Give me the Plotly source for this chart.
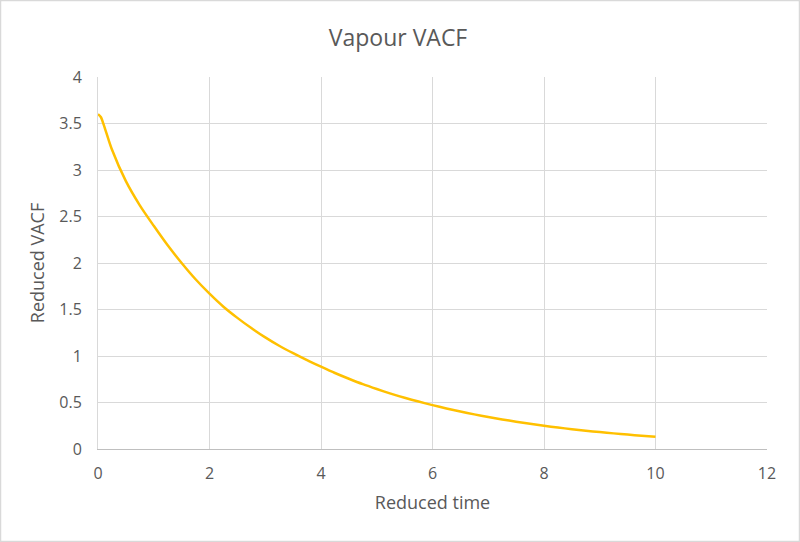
import plotly.graph_objects as go

reduced_time = [0, 0.05, 0.1, 0.15, 0.25, 0.5, 0.75, 1.0, 1.25, 1.5, 1.75, 2.0, 2.25, 2.5, 2.75,
                3.0, 3.25, 3.5, 3.75, 4.0, 4.25, 4.5, 4.75, 5.0, 5.25, 5.5, 5.75, 6.0, 6.25,
                6.5, 6.75, 7.0, 7.25, 7.5, 7.75, 8.0, 8.25, 8.5, 8.75, 9.0, 9.25, 9.5, 9.75, 10.0]
reduced_vacf = [3.60, 3.57, 3.49, 3.40, 3.22, 2.88, 2.62, 2.40, 2.19, 2.00, 1.825, 1.67, 1.53, 1.41, 1.30,
                1.20, 1.11, 1.03, 0.955, 0.885, 0.817, 0.755, 0.697, 0.645, 0.596, 0.551, 0.510, 0.472, 0.436,
                0.403, 0.372, 0.344, 0.318, 0.293, 0.271, 0.250, 0.231, 0.213, 0.197, 0.182, 0.168, 0.155, 0.143, 0.132]

W, H = 800, 542
L, R, T, B = 98, 33, 77, 93
FONT = "Open Sans"
GREY = "#595959"

fig = go.Figure()
fig.add_trace(go.Scatter(x=reduced_time, y=reduced_vacf, mode="lines",
                         line=dict(color="#FFC000", width=2.5, shape="spline", smoothing=0.8),
                         showlegend=False))

pw, ph = W - L - R, H - T - B
fig.update_layout(
    width=W, height=H,
    margin=dict(l=L, r=R, t=T, b=B),
    paper_bgcolor="white", plot_bgcolor="white",
    font=dict(family=FONT, color=GREY, size=16),
    title=dict(text="Vapour VACF", x=0.4975, xanchor="center", y=1 - 38 / H, yanchor="middle",
               font=dict(size=23, color=GREY, family=FONT)),
    xaxis=dict(range=[0, 12], dtick=2, tick0=0, showgrid=True, gridcolor="#d9d9d9",
               zeroline=False, showline=True, linecolor="#bfbfbf", ticks="",
               ticklabelstandoff=10,
               tickfont=dict(size=16, color=GREY),
               title=dict(text="Reduced time", font=dict(size=18, color=GREY), standoff=13)),
    yaxis=dict(range=[0, 4], dtick=0.5, tick0=0, showgrid=True, gridcolor="#d9d9d9",
               zeroline=False, showline=True, linecolor="#d9d9d9", ticks="",
               ticklabelstandoff=12,
               tickfont=dict(size=16, color=GREY),
               title=dict(text="Reduced VACF", font=dict(size=18, color=GREY), standoff=9)),
    shapes=[dict(type="rect", xref="paper", yref="paper",
                 x0=(-L + 0.5) / pw, x1=(pw + R - 0.5) / pw,
                 y0=(-B + 0.5) / ph, y1=(ph + T - 0.5) / ph,
                 line=dict(color="#d9d9d9", width=1.5), layer="below")],
)

fig.write_html("out.html")
